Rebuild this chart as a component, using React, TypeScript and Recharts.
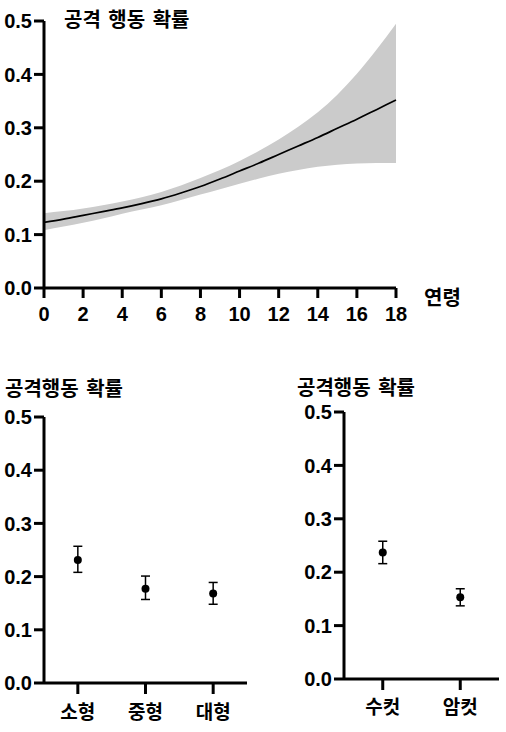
import React from 'react';
import {
  ComposedChart,
  Area,
  Line,
  XAxis,
  YAxis,
  ErrorBar,
} from 'recharts';

// ---- Top panel: age effect ----
const ages = [0, 1, 2, 3, 4, 5, 6, 7, 8, 9, 10, 11, 12, 13, 14, 15, 16, 17, 18];
const fitValues = [0.123, 0.129, 0.136, 0.143, 0.150, 0.158, 0.167, 0.178, 0.190, 0.204, 0.219, 0.234, 0.250, 0.266, 0.282, 0.299, 0.316, 0.334, 0.352];
const upperValues = [0.140, 0.144, 0.149, 0.155, 0.162, 0.170, 0.180, 0.192, 0.206, 0.221, 0.238, 0.257, 0.278, 0.302, 0.329, 0.362, 0.401, 0.446, 0.495];
const lowerValues = [0.108, 0.115, 0.122, 0.130, 0.139, 0.147, 0.155, 0.165, 0.175, 0.185, 0.195, 0.205, 0.214, 0.221, 0.227, 0.231, 0.233, 0.234, 0.234];
const ageTicks = [0, 2, 4, 6, 8, 10, 12, 14, 16, 18];
const probTicks = [0, 0.1, 0.2, 0.3, 0.4, 0.5];

// ---- Bottom-left: size ----
const sizeCategories = ['소형', '중형', '대형'];
const sizeValues = [0.231, 0.177, 0.168];
const sizeLower = [0.208, 0.157, 0.148];
const sizeUpper = [0.257, 0.201, 0.189];

// ---- Bottom-right: sex ----
const sexCategories = ['수컷', '암컷'];
const sexValues = [0.237, 0.153];
const sexLower = [0.216, 0.137];
const sexUpper = [0.258, 0.169];

const ageData = ages.map((a, i) => ({
  age: a,
  fit: fitValues[i],
  band: [lowerValues[i], upperValues[i]],
}));

const sizeData = sizeCategories.map((c, i) => ({
  name: c,
  value: sizeValues[i],
  err: [sizeValues[i] - sizeLower[i], sizeUpper[i] - sizeValues[i]],
}));

const sexData = sexCategories.map((c, i) => ({
  name: c,
  value: sexValues[i],
  err: [sexValues[i] - sexLower[i], sexUpper[i] - sexValues[i]],
}));

const numFont = { fontFamily: '"Liberation Sans", Arial, sans-serif', fontWeight: 700, fontSize: 20, fill: '#000' };
const korFont = { fontFamily: '"Noto Sans CJK KR", sans-serif', fontWeight: 700, fontSize: 19, fill: '#000' };
const axisLine = { stroke: '#000', strokeWidth: 3 };
const fmt = (v: number) => v.toFixed(1);

const Dot = (props: any) => {
  const { cx, cy } = props;
  if (cx == null || cy == null) return null;
  return <circle cx={cx} cy={cy} r={4} fill="#000" />;
};

const labelStyle: React.CSSProperties = {
  position: 'absolute',
  fontFamily: '"Noto Sans CJK KR", sans-serif',
  fontWeight: 700,
  fontSize: 20,
  lineHeight: '20px',
  color: '#000',
  whiteSpace: 'nowrap',
  wordSpacing: 3,
};

export default function App() {
  return (
    <div style={{ position: 'absolute', left: 0, top: 0, width: 506, height: 732, background: '#fff', overflow: 'hidden' }}>
      <div style={{ position: 'absolute', left: 0, top: 0 }}>
        <ComposedChart width={506} height={340} data={ageData} margin={{ top: 21, right: 110, left: 0, bottom: 12 }}>
          <XAxis
            dataKey="age"
            type="number"
            domain={[0, 18]}
            ticks={ageTicks}
            interval={0}
            axisLine={axisLine}
            tickLine={axisLine}
            tickSize={10}
            tickMargin={9}
            tick={numFont}
            height={40}
          />
          <YAxis
            type="number"
            domain={[0, 0.5]}
            ticks={probTicks}
            interval={0}
            tickFormatter={fmt}
            axisLine={axisLine}
            tickLine={axisLine}
            tickSize={10}
            tickMargin={2}
            tick={numFont}
            width={44}
          />
          <Area dataKey="band" type="monotone" fill="#cbcbcb" fillOpacity={1} stroke="none" isAnimationActive={false} />
          <Line dataKey="fit" type="monotone" stroke="#000" strokeWidth={1.7} dot={false} isAnimationActive={false} />
        </ComposedChart>
      </div>

      <div style={{ position: 'absolute', left: 0, top: 380 }}>
        <ComposedChart width={260} height={352} data={sizeData} margin={{ top: 37, right: 13, left: 0, bottom: 4 }}>
          <XAxis
            dataKey="name"
            type="category"
            scale="band"
            interval={0}
            axisLine={axisLine}
            tickLine={axisLine}
            tickSize={11}
            tickMargin={12}
            tick={korFont}
            height={45}
          />
          <YAxis
            type="number"
            domain={[0, 0.5]}
            ticks={probTicks}
            interval={0}
            tickFormatter={fmt}
            axisLine={axisLine}
            tickLine={axisLine}
            tickSize={10}
            tickMargin={2}
            tick={numFont}
            width={44}
          />
          <Line dataKey="value" stroke="none" dot={<Dot />} activeDot={false} isAnimationActive={false}>
            <ErrorBar dataKey="err" direction="y" width={4.5} stroke="#000" strokeWidth={1.5} />
          </Line>
        </ComposedChart>
      </div>

      <div style={{ position: 'absolute', left: 300, top: 380 }}>
        <ComposedChart width={206} height={352} data={sexData} margin={{ top: 32, right: 7, left: 0, bottom: 8 }}>
          <XAxis
            dataKey="name"
            type="category"
            scale="band"
            interval={0}
            axisLine={axisLine}
            tickLine={axisLine}
            tickSize={11}
            tickMargin={11}
            tick={korFont}
            height={45}
          />
          <YAxis
            type="number"
            domain={[0, 0.5]}
            ticks={probTicks}
            interval={0}
            tickFormatter={fmt}
            axisLine={axisLine}
            tickLine={axisLine}
            tickSize={10}
            tickMargin={2}
            tick={numFont}
            width={44}
          />
          <Line dataKey="value" stroke="none" dot={<Dot />} activeDot={false} isAnimationActive={false}>
            <ErrorBar dataKey="err" direction="y" width={4.5} stroke="#000" strokeWidth={1.5} />
          </Line>
        </ComposedChart>
      </div>

      <div style={{ ...labelStyle, left: 64, top: 9 }}>공격 행동 확률</div>
      <div style={{ ...labelStyle, left: 424, top: 287 }}>연령</div>
      <div style={{ ...labelStyle, left: 5, top: 378 }}>공격행동 확률</div>
      <div style={{ ...labelStyle, left: 297, top: 377 }}>공격행동 확률</div>
    </div>
  );
}
